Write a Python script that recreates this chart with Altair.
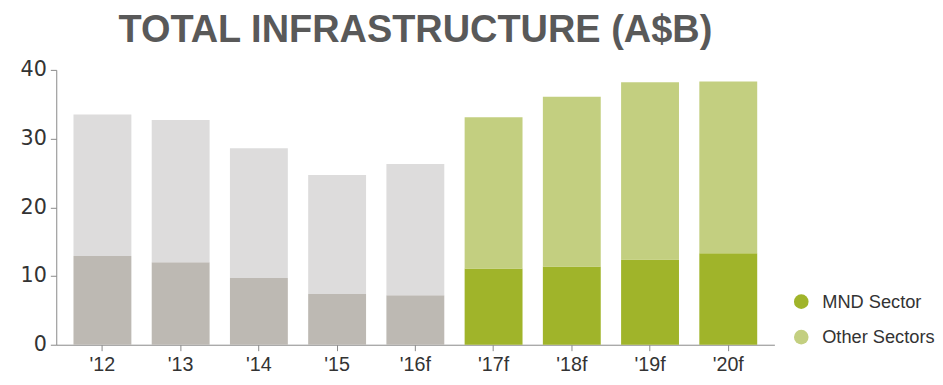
import altair as alt
import pandas as pd

years = ["'12", "'13", "'14", "'15", "'16f", "'17f", "'18f", "'19f", "'20f"]
totals = [33.5, 32.7, 28.6, 24.7, 26.3, 33.1, 36.1, 38.2, 38.3]
mnd = [12.9, 12.0, 9.7, 7.4, 7.2, 11.1, 11.4, 12.4, 13.3]
forecast = [False, False, False, False, False, True, True, True, True]

rows = []
for y, t, m, f in zip(years, totals, mnd, forecast):
    rows.append({"year": y, "value": m, "order": 0,
                 "key": "MND Sector" if f else "MND (actual)"})
    rows.append({"year": y, "value": round(t - m, 2), "order": 1,
                 "key": "Other Sectors" if f else "Other (actual)"})
df = pd.DataFrame(rows)

domain = ["MND Sector", "Other Sectors", "MND (actual)", "Other (actual)"]
colors = ["#a0b42a", "#c3cf80", "#bdb9b3", "#dddcdc"]

chart = alt.Chart(df).mark_bar().encode(
    x=alt.X("year:N", sort=years, title=None,
            scale=alt.Scale(paddingInner=0.26, paddingOuter=0.22),
            axis=alt.Axis(labelAngle=0, labelFontSize=20, labelColor="#333333",
                          labelFont="Liberation Sans", tickSize=6, tickColor="#888888",
                          domainColor="#888888", labelPadding=4)),
    y=alt.Y("value:Q", stack="zero", title=None,
            scale=alt.Scale(domain=[0, 40]),
            axis=alt.Axis(values=[0, 10, 20, 30, 40], grid=False, labelFontSize=21,
                          labelColor="#333333", labelFont="DejaVu Sans",
                          tickSize=6, tickColor="#888888", domainColor="#888888",
                          labelPadding=4)),
    color=alt.Color("key:N", scale=alt.Scale(domain=domain, range=colors),
                    legend=alt.Legend(values=["MND Sector", "Other Sectors"], title=None,
                                      orient="none", legendX=747, legendY=226,
                                      symbolType="circle", symbolSize=220,
                                      symbolStrokeWidth=0, labelFontSize=18.5,
                                      labelFont="Liberation Sans", labelColor="#333333",
                                      rowPadding=17, labelOffset=12, padding=0)),
    order=alt.Order("order:Q"),
).properties(
    width=729, height=279,
    title=alt.TitleParams("TOTAL INFRASTRUCTURE (A$B)", fontSize=38.5, font="Liberation Sans",
                          fontWeight="bold", color="#595959", anchor="middle", offset=9),
    padding={"left": 12, "top": 0, "right": 0, "bottom": 5},
).configure_view(stroke=None)

chart.save("out.html", embed_options={"renderer": "svg", "actions": False})
